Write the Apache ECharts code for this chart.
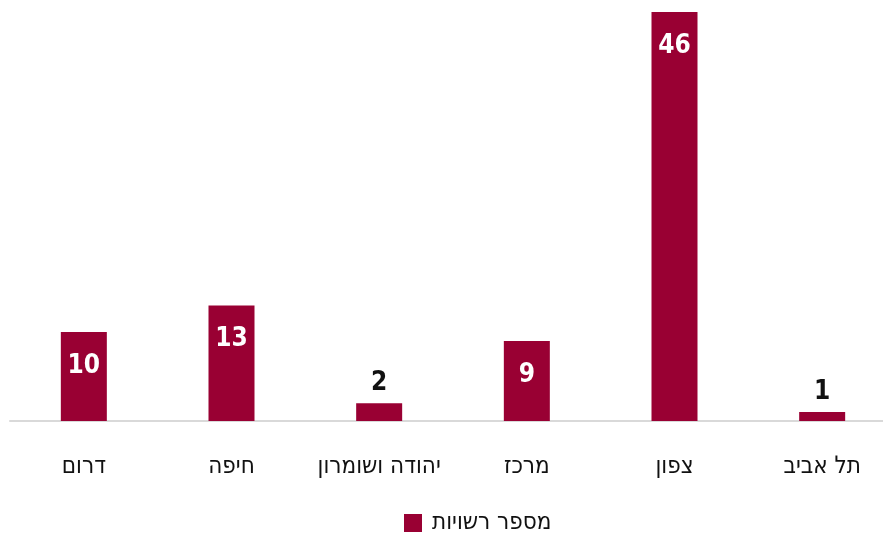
<!DOCTYPE html>
<html>
<head>
<meta charset="utf-8">
<script src="https://cdn.jsdelivr.net/npm/echarts@6/dist/echarts.min.js"></script>
<style>
  html, body { margin: 0; padding: 0; background: #fff; overflow: hidden; }
  /* a bit wider than the window: the last category slot runs off the right edge */
  #chart { width: 896px; height: 535px; }
</style>
</head>
<body>
<div id="chart"></div>
<script>
const categories = ['דרום', 'חיפה', 'יהודה ושומרון', 'מרכז', 'צפון', 'תל אביב']
const counts = [10, 13, 2, 9, 46, 1]
const seriesName = 'מספר רשויות'

const barColor = '#990033'
const font = "'DejaVu Sans Condensed', 'DejaVu Sans', sans-serif"

// big bars carry their number inside, small ones above
const barData = counts.map((v) => {
  const inside = v >= 5
  return {
    value: v,
    label: inside
      ? { position: 'insideTop', distance: 21, color: '#fff' }
      : { position: 'top', distance: 7, color: '#111' },
  }
})

const chart = echarts.init(document.getElementById('chart'))
chart.setOption({
  animation: false,
  grid: { left: 10, right: 0, top: 12, height: 409, containLabel: false },
  legend: {
    data: [seriesName],
    left: 404,
    top: 511,
    padding: 0,
    itemWidth: 18,
    itemHeight: 18,
    itemGap: 10,
    icon: 'rect',
    textStyle: { fontFamily: font, fontSize: 24, color: '#111', padding: [0, 0, 0, 5] },
  },
  xAxis: {
    type: 'category',
    data: categories,
    axisLine: { lineStyle: { color: '#d9d9d9', width: 2 } },
    axisTick: { show: false },
    axisLabel: { interval: 0, margin: 34, fontFamily: font, fontSize: 24, color: '#111' },
  },
  yAxis: {
    type: 'value',
    min: 0,
    max: 46,
    show: false,
    splitLine: { show: false },
  },
  series: [{
    name: seriesName,
    type: 'bar',
    data: barData,
    barWidth: 46,
    itemStyle: { color: barColor },
    label: {
      show: true,
      fontFamily: font,
      fontWeight: 'bold',
      fontSize: 26,
    },
  }],
})
</script>
</body>
</html>
